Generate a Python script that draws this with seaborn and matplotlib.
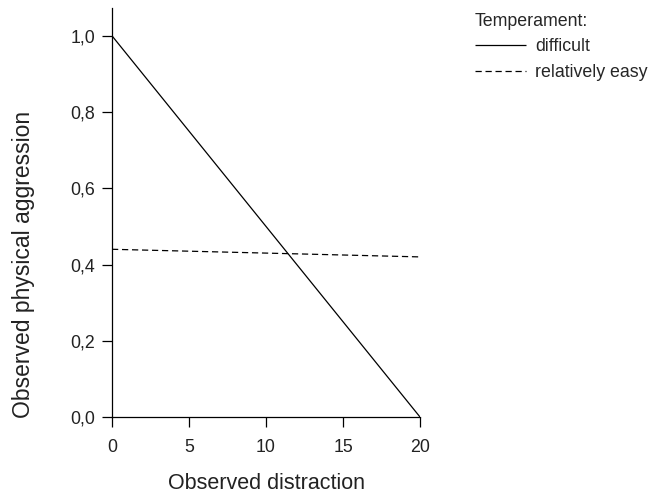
import numpy as np
import pandas as pd
import seaborn as sns
import matplotlib.pyplot as plt

# data
distraction = [0, 20]
difficult = [1.0, 0.0]
relatively_easy = [0.44, 0.42]
x_ticks = [0, 5, 10, 15, 20]
y_ticks = [0.0, 0.2, 0.4, 0.6, 0.8, 1.0]
y_tick_labels = ["0,0", "0,2", "0,4", "0,6", "0,8", "1,0"]

df = pd.DataFrame({
    "distraction": distraction * 2,
    "aggression": difficult + relatively_easy,
    "Temperament:": ["difficult"] * 2 + ["relatively easy"] * 2,
})

sns.set_style("ticks")
plt.rcParams["font.family"] = ["Liberation Sans", "DejaVu Sans"]

fig = plt.figure(figsize=(6.52, 4.93), dpi=100)
ax = fig.add_axes([112 / 652, 76 / 493, 308 / 652, 409 / 493])

sns.lineplot(data=df, x="distraction", y="aggression", hue="Temperament:",
             style="Temperament:", palette=["black", "black"],
             dashes=[(1, 0), (5, 3)], linewidth=0.9, ax=ax)

ax.set_xlim(0, 20)
ax.set_ylim(0, 1.073)
ax.set_xticks(x_ticks)
ax.set_yticks(y_ticks)
ax.set_yticklabels(y_tick_labels)
ax.tick_params(labelsize=12.8, length=7, width=0.9, color="black", labelcolor="#222222")
ax.tick_params(axis="x", pad=9)
ax.tick_params(axis="y", pad=5)
for s in ["left", "bottom"]:
    ax.spines[s].set_linewidth(0.9)
    ax.spines[s].set_color("black")
sns.despine(ax=ax)

ax.set_xlabel("Observed distraction", fontsize=15.5, color="#222222", labelpad=12)
ax.set_ylabel("Observed physical aggression", fontsize=16.5, color="#222222")
ax.yaxis.set_label_coords(-0.25, 0.372)

leg = ax.legend(title="Temperament:", loc="upper left", bbox_to_anchor=(459 / 652, 1.007),
                bbox_transform=fig.transFigure, frameon=False, fontsize=12.8,
                title_fontsize=12.8, handlelength=2.85, handletextpad=0.55,
                labelspacing=0.5, borderpad=0.4)
leg._legend_box.align = "left"

plt.savefig("out.png", dpi=100)
